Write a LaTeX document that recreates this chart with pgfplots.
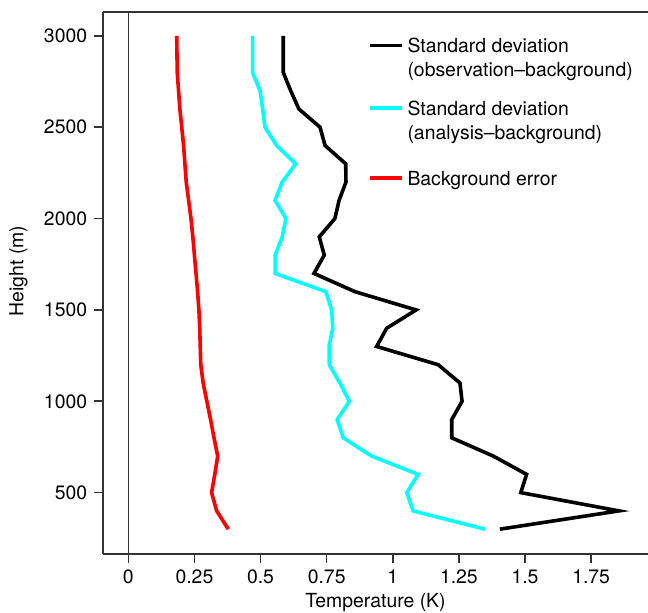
\documentclass[border=0pt]{standalone}
\usepackage{fontspec}
\setmainfont{TeX Gyre Heros}
\usepackage{pgfplots}
\pgfplotsset{compat=1.18}
\usepackage{pgfplotstable}
\definecolor{axgray}{HTML}{333333}
\definecolor{mycyan}{HTML}{00FFFF}
\pgfplotsset{
  twoline/.style={legend image code/.code={\draw[##1] (0pt,15.6pt) -- (15.8pt,15.6pt);}},
  oneline/.style={legend image code/.code={\draw[##1] (0pt,3.6pt) -- (15.8pt,3.6pt);}},
}

\pgfplotstableread{
H obs ana bg
3000 0.586 0.470 0.183
2900 0.586 0.470 0.184
2800 0.586 0.470 0.185
2700 0.614 0.498 0.190
2600 0.645 0.508 0.195
2500 0.725 0.517 0.202
2400 0.744 0.561 0.209
2300 0.822 0.633 0.214
2200 0.823 0.582 0.219
2100 0.797 0.555 0.228
2000 0.781 0.596 0.237
1900 0.722 0.582 0.244
1800 0.741 0.555 0.250
1700 0.702 0.555 0.256
1600 0.857 0.747 0.262
1500 1.088 0.769 0.267
1400 0.977 0.773 0.270
1300 0.939 0.759 0.272
1200 1.172 0.760 0.274
1100 1.254 0.800 0.283
1000 1.262 0.836 0.297
900 1.223 0.790 0.311
800 1.223 0.813 0.324
700 1.380 0.920 0.338
600 1.506 1.096 0.327
500 1.484 1.053 0.315
400 1.855 1.077 0.334
300 1.405 1.349 0.378
}\datatable

\begin{document}
\fontsize{9.7pt}{12pt}\selectfont
\begin{tikzpicture}
\useasboundingbox (-51.5pt,-29pt) rectangle (272.5pt,277pt);
\begin{axis}[
  name=ax,
  scale only axis,
  width=272.5pt, height=271pt,
  xmin=-0.0957, xmax=1.965,
  ymin=164, ymax=3131,
  axis x line*=bottom,
  axis y line*=left,
  axis line style={axgray, line width=0.8pt},
  tick style={axgray, line width=0.8pt},
  tick align=outside,
  major tick length=4.5pt,
  xtick={0,0.25,0.5,0.75,1,1.25,1.5,1.75},
  xticklabels={0,0.25,0.5,0.75,1,1.25,1.5,1.75},
  ytick={500,1000,1500,2000,2500,3000},
  yticklabels={500,1000,1500,2000,2500,3000},
  /pgf/number format/assume math mode=true,
  tick label style={font=\fontsize{9.7pt}{12pt}\selectfont},
  label style={font=\fontsize{9.7pt}{12pt}\selectfont},
  xlabel={Temperature (K)},
  ylabel={Height (m)},
  x label style={at={(axis description cs:0.5,-0.0904)}, anchor=center},
  y label style={at={(axis description cs:-0.155,0.522)}, anchor=center, rotate=0},
  clip=false,
  legend style={
    at={(0.4868,0.9515)}, anchor=north west,
    draw=none, fill=none, inner sep=0pt, outer sep=0pt,
    row sep=10.65pt, column sep=2pt,
    font=\fontsize{9.7pt}{12pt}\selectfont,
    nodes={inner sep=0pt, outer sep=0pt, align=left},
    cells={anchor=base west},
  },
]
\addplot[forget plot, axgray, line width=0.7pt] coordinates {(0,164) (0,3131)};
\addplot[black, line width=1.8pt, twoline] table[x=obs, y=H] {\datatable};
\addlegendentry{Standard deviation\\(observation--background)}
\addplot[mycyan, line width=1.8pt, twoline] table[x=ana, y=H] {\datatable};
\addlegendentry{Standard deviation\\(analysis--background)}
\addplot[red, line width=1.8pt, oneline] table[x=bg, y=H] {\datatable};
\addlegendentry{\rule{0pt}{10.9pt}Background error}
\draw[axgray, line width=0.8pt] (rel axis cs:0,1) -- (rel axis cs:1,1);
\end{axis}
\end{tikzpicture}
\end{document}
